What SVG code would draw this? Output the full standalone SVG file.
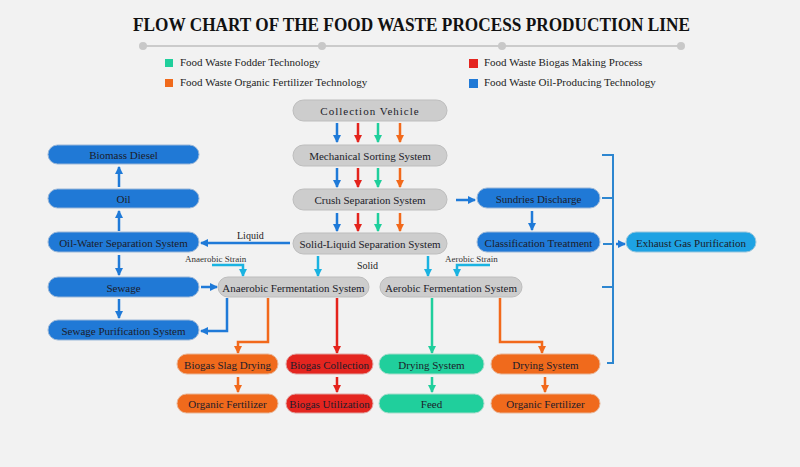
<svg xmlns="http://www.w3.org/2000/svg" width="800" height="467" viewBox="0 0 800 467">
<defs>
<style>
.bg{fill:#f2f2f2}
.title{font-family:"Liberation Serif",serif;font-weight:bold;font-size:19px;fill:#111}
.leg{font-family:"Liberation Serif",serif;font-size:11px;fill:#222}
.lbl{font-family:"Liberation Serif",serif;font-size:10px;fill:#222}
.sm{font-family:"Liberation Serif",serif;font-size:9px;fill:#333}
.nt{font-family:"Liberation Serif",serif;font-size:11px;fill:#1c1c2a;text-anchor:middle;dominant-baseline:central}
.grey{fill:#cdcdcd;stroke:#bdbdbd;stroke-width:1}
.blue{fill:#2079d6;stroke:#9ab7d8;stroke-width:1}
.lblue{fill:#1ea2e3;stroke:#9ac6dc;stroke-width:1}
.org{fill:#f06a1c;stroke:#e9b596;stroke-width:1}
.red{fill:#e4251f;stroke:#e0a3a0;stroke-width:1}
.teal{fill:#20cf9c;stroke:#a7dccb;stroke-width:1}
.c{fill:none;stroke-width:2.5}
.cb{stroke:#1f7ad8}.cr{stroke:#e4231c}.ct{stroke:#1fcf9c}.co{stroke:#f2691b}.cc{stroke:#1ab3e1}
</style>
<marker id="ab" viewBox="0 0 8 8" refX="7" refY="4" markerWidth="8" markerHeight="8" markerUnits="userSpaceOnUse" orient="auto"><path d="M0,0 L8,4 L0,8 z" fill="#1f7ad8"/></marker>
<marker id="ar" viewBox="0 0 8 8" refX="7" refY="4" markerWidth="8" markerHeight="8" markerUnits="userSpaceOnUse" orient="auto"><path d="M0,0 L8,4 L0,8 z" fill="#e4231c"/></marker>
<marker id="at" viewBox="0 0 8 8" refX="7" refY="4" markerWidth="8" markerHeight="8" markerUnits="userSpaceOnUse" orient="auto"><path d="M0,0 L8,4 L0,8 z" fill="#1fcf9c"/></marker>
<marker id="ao" viewBox="0 0 8 8" refX="7" refY="4" markerWidth="8" markerHeight="8" markerUnits="userSpaceOnUse" orient="auto"><path d="M0,0 L8,4 L0,8 z" fill="#f2691b"/></marker>
<marker id="ac" viewBox="0 0 8 8" refX="7" refY="4" markerWidth="8" markerHeight="8" markerUnits="userSpaceOnUse" orient="auto"><path d="M0,0 L8,4 L0,8 z" fill="#1ab3e1"/></marker>
</defs>
<rect class="bg" x="0" y="0" width="800" height="467"/>

<g id="header">
<text class="title" x="133" y="31" textLength="557" lengthAdjust="spacingAndGlyphs">FLOW CHART OF THE FOOD WASTE PROCESS PRODUCTION LINE</text>
<line x1="143" y1="46" x2="681" y2="46" stroke="#cbcbcb" stroke-width="2"/>
<circle cx="143" cy="46" r="4" fill="#c8c8c8"/>
<circle cx="322" cy="46" r="4" fill="#c8c8c8"/>
<circle cx="502" cy="46" r="4" fill="#c8c8c8"/>
<circle cx="681" cy="46" r="4" fill="#c8c8c8"/>
</g>

<g id="legend">
<rect x="165" y="59" width="8" height="8" fill="#20cf9c"/>
<text class="leg" x="180" y="66">Food Waste Fodder Technology</text>
<rect x="165" y="79" width="8" height="8" fill="#f06a1c"/>
<text class="leg" x="180" y="86">Food Waste Organic Fertilizer Technology</text>
<rect x="469" y="59" width="9" height="9" fill="#e4251f"/>
<text class="leg" x="484" y="66">Food Waste Biogas Making Process</text>
<rect x="469" y="79" width="9" height="9" fill="#2079d6"/>
<text class="leg" x="484" y="86">Food Waste Oil-Producing Technology</text>
</g>

<g id="connectors">
<g class="c cb" marker-end="url(#ab)">
<line x1="337" y1="123" x2="337" y2="142"/>
<line x1="337" y1="168" x2="337" y2="187"/>
<line x1="337" y1="213" x2="337" y2="231"/>
<line x1="456" y1="200" x2="475" y2="200"/>
<line x1="532" y1="211" x2="532" y2="230"/>
<line x1="290" y1="243" x2="201" y2="243"/>
<line x1="119" y1="231" x2="119" y2="211"/>
<line x1="119" y1="187" x2="119" y2="167"/>
<line x1="119" y1="255" x2="119" y2="275"/>
<line x1="119" y1="299" x2="119" y2="318"/>
<line x1="201" y1="287" x2="217" y2="287"/>
<polyline points="227,298 227,331 201,331"/>
<line x1="616" y1="244" x2="625" y2="244"/>
</g>
<g class="c cr" marker-end="url(#ar)">
<line x1="358" y1="123" x2="358" y2="142"/>
<line x1="358" y1="168" x2="358" y2="187"/>
<line x1="358" y1="213" x2="358" y2="231"/>
<line x1="337" y1="298" x2="337" y2="353"/>
<line x1="337" y1="377" x2="337" y2="392"/>
</g>
<g class="c ct" marker-end="url(#at)">
<line x1="378" y1="123" x2="378" y2="142"/>
<line x1="378" y1="168" x2="378" y2="187"/>
<line x1="378" y1="213" x2="378" y2="231"/>
<line x1="432" y1="298" x2="432" y2="353"/>
<line x1="432" y1="377" x2="432" y2="392"/>
</g>
<g class="c co" marker-end="url(#ao)">
<line x1="400" y1="123" x2="400" y2="142"/>
<line x1="400" y1="168" x2="400" y2="187"/>
<line x1="400" y1="213" x2="400" y2="231"/>
<polyline points="268,298 268,342 238,342 238,353"/>
<polyline points="500,298 500,342 542,342 542,353"/>
<line x1="238" y1="377" x2="238" y2="392"/>
<line x1="545" y1="377" x2="545" y2="392"/>
</g>
<g class="c cc" marker-end="url(#ac)">
<line x1="318" y1="256" x2="318" y2="276"/>
<line x1="428" y1="256" x2="428" y2="276"/>
<polyline points="212,265 243,265 243,276"/>
<polyline points="490,265 457,265 457,276"/>
</g>
<path d="M602,155 H613 V363 H607 M602,198 H613 M603,244 H613 M602,287 H613" fill="none" stroke="#2d86d0" stroke-width="2"/>
<text class="lbl" x="237" y="239">Liquid</text>
<text class="lbl" x="357" y="269">Solid</text>
<text class="sm" x="185" y="262">Anaerobic Strain</text>
<text class="sm" x="445" y="262">Aerobic Strain</text>
</g>

<g id="n-collection"><rect class="grey" x="293" y="100" width="154" height="21" rx="10.5"/><text class="nt" x="370" y="111" letter-spacing="1">Collection Vehicle</text></g>
<g id="n-mech"><rect class="grey" x="293" y="145" width="154" height="21" rx="10.5"/><text class="nt" x="370" y="156">Mechanical Sorting System</text></g>
<g id="n-crush"><rect class="grey" x="293" y="189" width="154" height="21" rx="10.5"/><text class="nt" x="370" y="200">Crush Separation System</text></g>
<g id="n-solidliquid"><rect class="grey" x="293" y="233" width="154" height="21" rx="10.5"/><text class="nt" x="370" y="244">Solid-Liquid Separation System</text></g>
<g id="n-anaerobic"><rect class="grey" x="218" y="277" width="151" height="20" rx="10"/><text class="nt" x="293.5" y="287.5">Anaerobic Fermentation System</text></g>
<g id="n-aerobic"><rect class="grey" x="380" y="277" width="142" height="20" rx="10"/><text class="nt" x="451" y="287.5">Aerobic Fermentation System</text></g>

<g id="n-biomass"><rect class="blue" x="48" y="145" width="151" height="19" rx="9.5"/><text class="nt" x="123.5" y="155">Biomass Diesel</text></g>
<g id="n-oil"><rect class="blue" x="48" y="189" width="151" height="19" rx="9.5"/><text class="nt" x="123.5" y="199">Oil</text></g>
<g id="n-oilwater"><rect class="blue" x="48" y="232" width="151" height="20" rx="10"/><text class="nt" x="123.5" y="242.5">Oil-Water Separation System</text></g>
<g id="n-sewage"><rect class="blue" x="48" y="277" width="151" height="20" rx="10"/><text class="nt" x="123.5" y="287.5">Sewage</text></g>
<g id="n-sewagepur"><rect class="blue" x="48" y="320" width="151" height="20" rx="10"/><text class="nt" x="123.5" y="330.5">Sewage Purification System</text></g>
<g id="n-sundries"><rect class="blue" x="477" y="188" width="123" height="20" rx="10"/><text class="nt" x="538.5" y="198.5">Sundries Discharge</text></g>
<g id="n-classification"><rect class="blue" x="477" y="232" width="123" height="20" rx="10"/><text class="nt" x="538.5" y="242.5">Classification Treatment</text></g>
<g id="n-exhaust"><rect class="lblue" x="626" y="232" width="130" height="20" rx="10"/><text class="nt" x="691" y="242.5">Exhaust Gas Purification</text></g>

<g id="n-slag"><rect class="org" x="177" y="354" width="101" height="20" rx="10"/><text class="nt" x="227.5" y="364.5">Biogas Slag Drying</text></g>
<g id="n-organic1"><rect class="org" x="177" y="394" width="101" height="19" rx="9.5"/><text class="nt" x="227.5" y="404">Organic Fertilizer</text></g>
<g id="n-biogascol"><rect class="red" x="286" y="354" width="87" height="20" rx="10"/><text class="nt" x="329.5" y="364.5">Biogas Collection</text></g>
<g id="n-biogasutil"><rect class="red" x="286" y="394" width="87" height="19" rx="9.5"/><text class="nt" x="329.5" y="404">Biogas Utilization</text></g>
<g id="n-drying1"><rect class="teal" x="379" y="354" width="105" height="20" rx="10"/><text class="nt" x="431.5" y="364.5">Drying System</text></g>
<g id="n-feed"><rect class="teal" x="379" y="394" width="105" height="19" rx="9.5"/><text class="nt" x="431.5" y="404">Feed</text></g>
<g id="n-drying2"><rect class="org" x="491" y="354" width="109" height="20" rx="10"/><text class="nt" x="545.5" y="364.5">Drying System</text></g>
<g id="n-organic2"><rect class="org" x="491" y="394" width="109" height="19" rx="9.5"/><text class="nt" x="545.5" y="404">Organic Fertilizer</text></g>
</svg>
